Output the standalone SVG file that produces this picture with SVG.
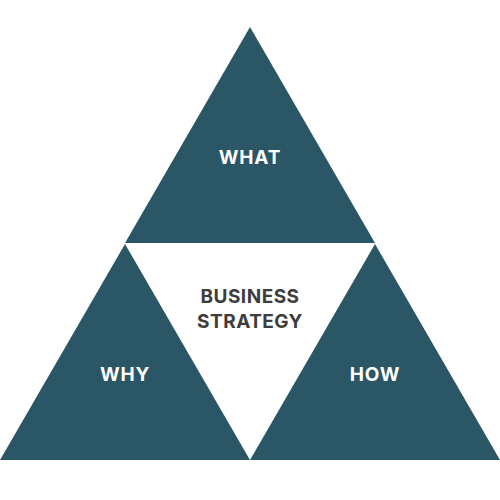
<svg xmlns="http://www.w3.org/2000/svg" width="500" height="500" viewBox="0 0 500 500">
<style>
.tri{fill:#2a5666}
.lbl{font-family:Inter,"Open Sans","Liberation Sans",sans-serif;font-weight:700;font-size:19px;letter-spacing:0.8px;fill:#ffffff;text-anchor:middle}
.ctr{font-family:Inter,"Open Sans","Liberation Sans",sans-serif;font-weight:700;font-size:19px;letter-spacing:0.5px;fill:#3d3d3d;text-anchor:middle}
</style>
<rect width="500" height="500" fill="#ffffff"/>
<g id="what">
<polygon class="tri" points="250,27 375,243 125,243"/>
<text class="lbl" x="250" y="164">WHAT</text>
</g>
<g id="why">
<polygon class="tri" points="125,244 250,460 0,460"/>
<text class="lbl" x="125" y="381">WHY</text>
</g>
<g id="how">
<polygon class="tri" points="375,244 500,460 250,460"/>
<text class="lbl" x="375" y="381">HOW</text>
</g>
<g id="center">
<text class="ctr" x="250" y="303">BUSINESS</text>
<text class="ctr" x="250" y="328">STRATEGY</text>
</g>
<g id="connectors"></g>
</svg>
